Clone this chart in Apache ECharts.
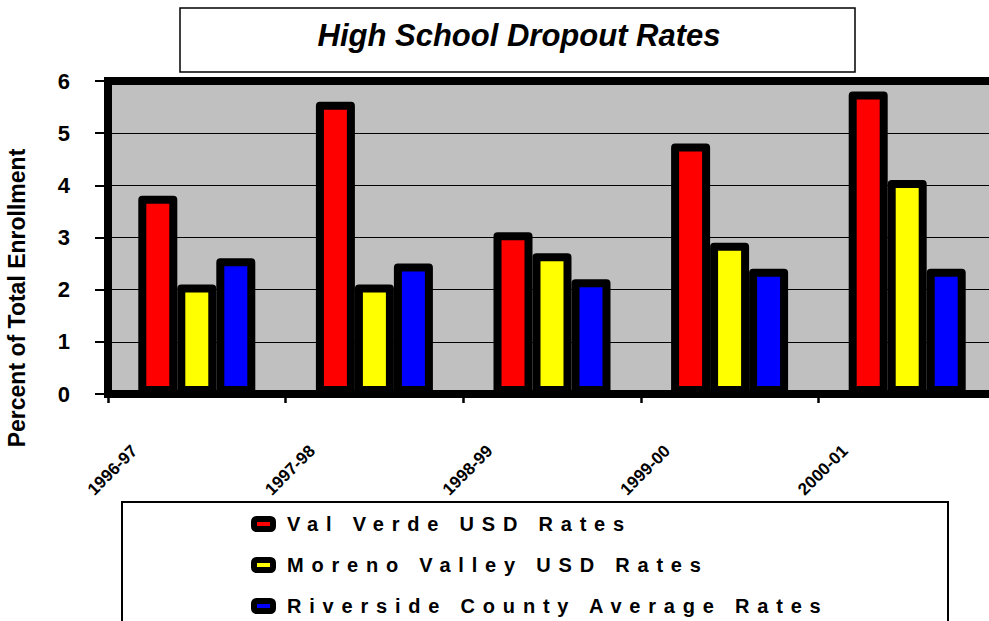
<!DOCTYPE html>
<html>
<head>
<meta charset="utf-8">
<script src="https://cdn.jsdelivr.net/npm/echarts@6/dist/echarts.min.js"></script>
<style>
  html, body { margin: 0; padding: 0; background: #fff; }
  #chart { width: 989px; height: 621px; }
  /* legend text is spaced out in the original */
  #chart text[style*="20px"] { letter-spacing: 7.8px; }
</style>
</head>
<body>
<div id="chart"></div>
<script>
const years = ['1996-97', '1997-98', '1998-99', '1999-00', '2000-01'];
const seriesNames = ['Val Verde USD Rates', 'Moreno Valley USD Rates', 'Riverside County Average Rates'];
const valVerde = [3.8, 5.6, 3.1, 4.8, 5.8];
const morenoValley = [2.1, 2.1, 2.7, 2.9, 4.1];
const riverside = [2.6, 2.5, 2.2, 2.4, 2.4];
const yMin = 0, yMax = 6, yStep = 1;

const font = 'Liberation Sans, Arial, sans-serif';

function bar(name, data, color) {
  return {
    name: name,
    type: 'bar',
    data: data,
    barWidth: 39,
    barGap: '0%',
    itemStyle: {
      color: color,
      borderColor: '#000',
      borderWidth: 8,
      borderJoin: 'round'
    }
  };
}

let chart = echarts.init(document.getElementById('chart'), null, {renderer: 'svg'});
chart.setOption({
  animation: false,
  textStyle: {fontFamily: font},
  title: {
    text: 'High School Dropout Rates',
    left: 519,
    textAlign: 'center',
    top: 20,
    padding: 0,
    textStyle: {fontSize: 31, fontWeight: 'bold', fontStyle: 'italic', color: '#000', fontFamily: font}
  },
  graphic: [
    { // title box
      type: 'rect', z: -1,
      shape: {x: 180, y: 8, width: 675, height: 64},
      style: {fill: '#fff', stroke: '#000', lineWidth: 1.5}
    },
    { // legend box
      type: 'rect', z: -1,
      shape: {x: 122, y: 502, width: 826, height: 130},
      style: {fill: '#fff', stroke: '#000', lineWidth: 2}
    }
  ],
  legend: {
    data: seriesNames,
    orient: 'vertical',
    left: 251,
    top: 514,
    padding: 0,
    itemGap: 21,
    itemWidth: 19,
    itemHeight: 10,
    icon: 'roundRect',
    itemStyle: {borderColor: '#000', borderWidth: 6},
    textStyle: {fontSize: 20, fontWeight: 'bold', color: '#000', fontFamily: font, padding: [0, 0, 0, 9]}
  },
  grid: {
    left: 108,
    top: 81,
    width: 888,
    height: 313,
    containLabel: false,
    outerBoundsMode: 'none',
    show: true,
    backgroundColor: '#c0c0c0',
    borderColor: '#000',
    borderWidth: 8
  },
  xAxis: {
    type: 'category',
    data: years,
    axisLine: {show: true, lineStyle: {color: '#000', width: 8}},
    axisTick: {show: true, length: 9, lineStyle: {color: '#000', width: 2.5}},
    axisLabel: {
      interval: 0,
      rotate: 45,
      margin: -8,
      padding: [0, 88, 0, 0],
      fontSize: 17,
      fontWeight: 'bold',
      color: '#000',
      fontFamily: font
    }
  },
  yAxis: {
    type: 'value',
    min: yMin,
    max: yMax,
    interval: yStep,
    name: 'Percent of Total Enrollment',
    nameLocation: 'middle',
    nameGap: 80,
    nameTextStyle: {fontSize: 23, fontWeight: 'bold', color: '#000', fontFamily: font, padding: [0, 121, 0, 0]},
    axisLine: {show: true, lineStyle: {color: '#000', width: 8}},
    axisTick: {show: true, length: 13, lineStyle: {color: '#000', width: 2}},
    axisLabel: {fontSize: 22, fontWeight: 'bold', color: '#000', margin: 38, padding: [8, 0, 0, 0], fontFamily: font},
    splitLine: {show: true, lineStyle: {color: '#000', width: 1}}
  },
  series: [
    bar(seriesNames[0], valVerde, '#ff0000'),
    bar(seriesNames[1], morenoValley, '#ffff00'),
    bar(seriesNames[2], riverside, '#0000ff')
  ]
});
</script>
</body>
</html>
